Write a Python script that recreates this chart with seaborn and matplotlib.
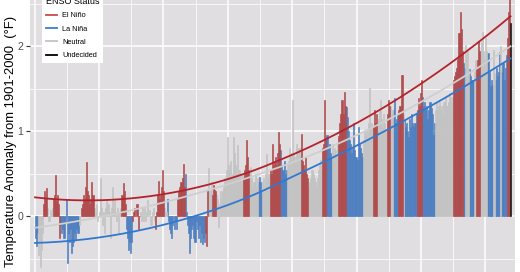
import numpy as np
import pandas as pd
import seaborn as sns
import matplotlib.pyplot as plt
from matplotlib.lines import Line2D

plt.rcParams['font.family'] = ['Liberation Sans', 'DejaVu Sans']

# ---- data (bi-monthly) ----
years = list(range(1950, 2024))
# status per two-month period: E = El Niño, L = La Niña, N = Neutral, U = Undecided
status_codes = [
    "LLLNNN", "NNEEEE", "NNNNNE", "EEEEEE", "LLLLLL", "LLLLLL", "LLLLLN", "NEEEEE",
    "EEEEEE", "ENNNNN", "NNNNNN", "NNNNNN", "NNNNNN", "NNNEEE", "ELLLLL", "LEEEEE",
    "EENNNN", "NNNNNN", "NNNNEE", "EEEEEE", "ENNLLL", "LLLLLL", "LEEEEE", "EELLLL",
    "LLLLLL", "LLLLLL", "LLLEEE", "NNNEEE", "ENNNNN", "NNNNNN", "NNNNNN", "NNNNNN",
    "NNEEEE", "EENNNN", "NNNNLL", "LLNNNN", "NNNEEE", "EEEEEE", "ELLLLL", "LNNNNN",
    "NNNNNN", "NNEEEE", "EEENNN", "NNNNNN", "NNNNEE", "EELLLL", "LNNNNN", "NEEEEE",
    "EELLLL", "LLLLLL", "LLLLLL", "NNNNNN", "NNNEEE", "ENNNNN", "NNNNEE", "ENNNLL",
    "LLLEEE", "ENLLLL", "LLLLLL", "LLEEEE", "ELLLLL", "LLLLLL", "LNNNNN", "NNNNNN",
    "NNNNNN", "EEEEEE", "EEELLN", "NNNLLL", "LNNEEE", "ENNNNN", "NNLLLL", "LNNLLL",
    "LLNLLL", "LLEEEU",
]
anomaly_values = [
    [-0.25, -0.35, -0.20, -0.45, -0.30, -0.60], [-0.40, -0.20, 0.15, 0.30, 0.20, 0.33],
    [0.10, -0.05, 0.08, 0.02, 0.10, 0.20], [0.25, 0.49, 0.18, 0.25, 0.15, -0.25],
    [-0.10, -0.20, -0.15, -0.25, -0.07, 0.20], [-0.55, -0.20, -0.30, -0.15, -0.43, -0.35],
    [-0.30, -0.20, -0.28, -0.15, -0.20, -0.10], [0.00, 0.10, 0.15, 0.25, 0.20, 0.35],
    [0.64, 0.30, 0.25, 0.15, 0.20, 0.40], [0.25, 0.10, 0.05, 0.15, -0.05, 0.00],
    [0.05, 0.45, 0.10, -0.10, 0.05, -0.20], [0.10, 0.20, 0.15, 0.05, -0.25, 0.10],
    [0.35, 0.10, 0.20, 0.05, -0.05, 0.10], [-0.20, 0.05, 0.10, 0.25, 0.39, 0.30],
    [0.15, -0.15, -0.25, -0.40, -0.30, -0.43], [-0.30, -0.05, 0.05, 0.10, 0.00, 0.15],
    [-0.15, 0.00, 0.05, -0.05, 0.10, -0.05], [0.10, -0.05, 0.05, 0.19, 0.00, 0.08],
    [-0.10, 0.05, 0.10, -0.05, -0.15, 0.05], [0.25, 0.42, 0.20, 0.25, 0.35, 0.55],
    [0.30, 0.10, 0.05, 0.20, -0.05, -0.15], [-0.20, -0.25, -0.10, 0.00, -0.15, -0.05],
    [-0.15, 0.20, 0.30, 0.35, 0.40, 0.45], [0.62, 0.35, 0.50, 0.05, -0.10, -0.20],
    [-0.43, -0.25, -0.15, -0.10, -0.25, -0.30], [-0.05, -0.15, -0.25, -0.10, -0.30, -0.20],
    [-0.32, -0.25, -0.30, -0.20, -0.35, 0.30], [0.57, 0.30, 0.40, 0.25, 0.37, 0.31],
    [0.30, 0.25, 0.20, -0.12, 0.15, 0.30], [0.20, 0.30, 0.35, 0.45, 0.55, 0.93],
    [0.60, 0.55, 0.65, 0.45, 0.50, 0.93], [0.75, 0.60, 0.50, 0.84, 0.55, 0.50],
    [0.40, 0.50, 0.45, 0.55, 0.60, 0.90], [0.70, 0.55, 0.50, 0.58, 0.45, 0.35],
    [0.40, 0.50, 0.35, 0.45, 0.40, 0.47], [0.40, 0.30, 0.40, 0.45, 0.35, 0.50],
    [0.74, 0.45, 0.50, 0.55, 0.50, 0.85], [0.60, 0.65, 0.70, 0.60, 0.75, 0.99],
    [0.85, 0.78, 0.60, 0.55, 0.65, 0.50], [0.55, 0.60, 0.65, 0.80, 0.70, 0.75],
    [1.37, 0.75, 0.70, 0.65, 0.85, 0.80], [0.80, 0.70, 0.97, 0.65, 0.60, 0.55],
    [0.70, 0.50, 0.45, 0.35, 0.40, 0.45], [0.55, 0.50, 0.45, 0.40, 0.35, 0.45],
    [0.55, 0.60, 0.66, 0.55, 0.80, 0.85], [1.37, 0.90, 0.96, 0.80, 0.85, 0.75],
    [0.70, 0.85, 0.75, 0.80, 0.78, 0.70], [0.85, 0.95, 1.10, 1.20, 1.37, 1.20],
    [1.47, 1.30, 1.29, 1.17, 1.00, 0.90], [0.85, 0.75, 0.80, 1.10, 0.78, 0.70],
    [0.66, 1.05, 0.85, 0.80, 0.75, 0.70], [0.90, 1.00, 0.95, 1.02, 0.90, 1.10],
    [1.51, 1.10, 1.05, 1.06, 1.25, 1.10], [1.20, 1.10, 1.15, 1.25, 1.37, 1.15],
    [1.05, 1.20, 1.10, 1.00, 1.20, 1.37], [1.30, 1.30, 1.20, 1.25, 1.25, 1.39],
    [1.10, 1.15, 1.20, 1.25, 1.30, 1.66], [1.66, 1.20, 1.15, 1.05, 1.10, 1.00],
    [0.94, 1.15, 1.05, 1.20, 1.10, 1.06], [1.10, 1.20, 1.25, 1.39, 1.30, 1.45],
    [1.61, 1.41, 1.30, 1.35, 1.25, 1.30], [1.15, 1.25, 1.35, 1.28, 1.20, 0.96],
    [1.10, 1.25, 1.35, 1.25, 1.30, 1.35], [1.25, 1.30, 1.20, 1.35, 1.40, 1.30],
    [1.30, 1.35, 1.45, 1.40, 1.35, 1.40], [1.60, 1.65, 1.70, 1.75, 1.85, 2.16],
    [2.41, 2.20, 1.95, 1.80, 1.75, 2.02], [1.84, 1.95, 1.72, 1.74, 1.65, 1.61],
    [1.60, 1.70, 1.84, 1.75, 1.84, 2.06], [1.95, 1.90, 2.05, 2.17, 1.95, 1.85],
    [2.10, 1.95, 1.92, 1.70, 1.53, 1.60], [1.55, 1.96, 1.69, 1.60, 1.75, 1.65],
    [1.70, 1.94, 2.00, 1.70, 1.80, 1.61], [1.75, 1.90, 2.10, 2.40, 2.65, 2.28],
]
status_names = {"E": "El Niño", "L": "La Niña", "N": "Neutral", "U": "Undecided"}
legend_labels = ["El Niño", "La Niña", "Neutral", "Undecided"]

bar_colors = {"El Niño": "#C0383B", "La Niña": "#3A7DD3", "Neutral": "#C3C3C3", "Undecided": "#151515"}
line_colors = {"El Niño": "#B4232B", "La Niña": "#3378CF", "Neutral": "#CFCFCF"}

# ---- build table ----
rows = []
for yr, codes, vals in zip(years, status_codes, anomaly_values):
    for k in range(6):
        rows.append({"t": yr + (2 * k + 1) / 12.0, "v": vals[k], "status": status_names[codes[k]]})
df = pd.DataFrame(rows)


def loess(x, y, grid, span=0.75):
    n = len(x)
    k = min(n, int(np.ceil(span * n)))
    out = []
    for g in grid:
        d = np.abs(x - g)
        h = np.sort(d)[k - 1] * max(1.0, span)
        w = np.clip(1 - (d / h) ** 3, 0, None) ** 3
        X = np.vstack([np.ones_like(x), x - g, (x - g) ** 2]).T
        sw = np.sqrt(w)
        beta = np.linalg.lstsq(X * sw[:, None], y * sw, rcond=None)[0]
        out.append(beta[0])
    return np.array(out)


full_grid = np.linspace(df.t.min(), df.t.max(), 150)
smooth_rows = []
for name in ["El Niño", "La Niña", "Neutral"]:
    sub = df[df.status == name]
    for g, s in zip(full_grid, loess(sub.t.values, sub.v.values, full_grid, span=1.3)):
        smooth_rows.append({"t": g, "v": s, "status": name})
sm = pd.DataFrame(smooth_rows)

# ---- figure ----
fig = plt.figure(figsize=(5.2, 2.72), dpi=100)
ax = fig.add_axes([30 / 520, 0, 485 / 520, 1])
ax.set_facecolor("#E1DEE1")

sns.barplot(data=df, x="t", y="v", hue="status", palette=bar_colors,
            native_scale=True, dodge=False, width=1.0, errorbar=None,
            legend=False, ax=ax, linewidth=0)
for p in ax.patches:
    p.set_edgecolor(p.get_facecolor())
    p.set_linewidth(0.45)

sns.lineplot(data=sm, x="t", y="v", hue="status", palette=line_colors,
             linewidth=1.3, legend=False, ax=ax)

ax.set_xlim(1949.30, 2024.61)
ax.set_ylim(-0.653, 2.547)

ax.set_xticks(range(1950, 2030, 10))
ax.set_xticks(range(1955, 2025, 10), minor=True)
ax.set_yticks([0, 1, 2])
ax.set_yticks([-0.5, 0.5, 1.5, 2.5], minor=True)
ax.set_yticklabels(["0", "1", "2"])
ax.grid(which="major", color="white", linewidth=1.1)
ax.grid(which="minor", color="white", linewidth=0.55)
ax.set_axisbelow(True)
for s in ax.spines.values():
    s.set_visible(False)
ax.tick_params(axis="x", which="both", length=0, labelbottom=False)
ax.tick_params(axis="y", which="major", length=3, width=0.8, color="#333333",
               labelsize=7.6, labelcolor="#4D4D4D", pad=2)
ax.tick_params(axis="y", which="minor", length=0)
ax.set_xlabel("")
ax.set_ylabel("Temperature Anomaly from 1901-2000  (°F)", fontsize=9.4, color="black")
ax.yaxis.set_label_coords(-0.026, 0.48)

handles = [Line2D([], [], color=c, lw=1.3) for c in ["#C94A4D", "#3A7DD3", "#C3C3C3", "black"]]
leg = fig.legend(handles, legend_labels, title="ENSO Status", loc="upper left",
                 bbox_to_anchor=(38 / 520, 1 + 11 / 272), frameon=True, fontsize=5.3,
                 title_fontsize=6.5, handlelength=1.5, handletextpad=0.75,
                 labelspacing=0.85, borderpad=0.55, fancybox=False, framealpha=1)
leg.get_frame().set_facecolor("white")
leg.get_frame().set_edgecolor("none")
leg._legend_box.align = "left"

fig.savefig("out.png", dpi=100)
